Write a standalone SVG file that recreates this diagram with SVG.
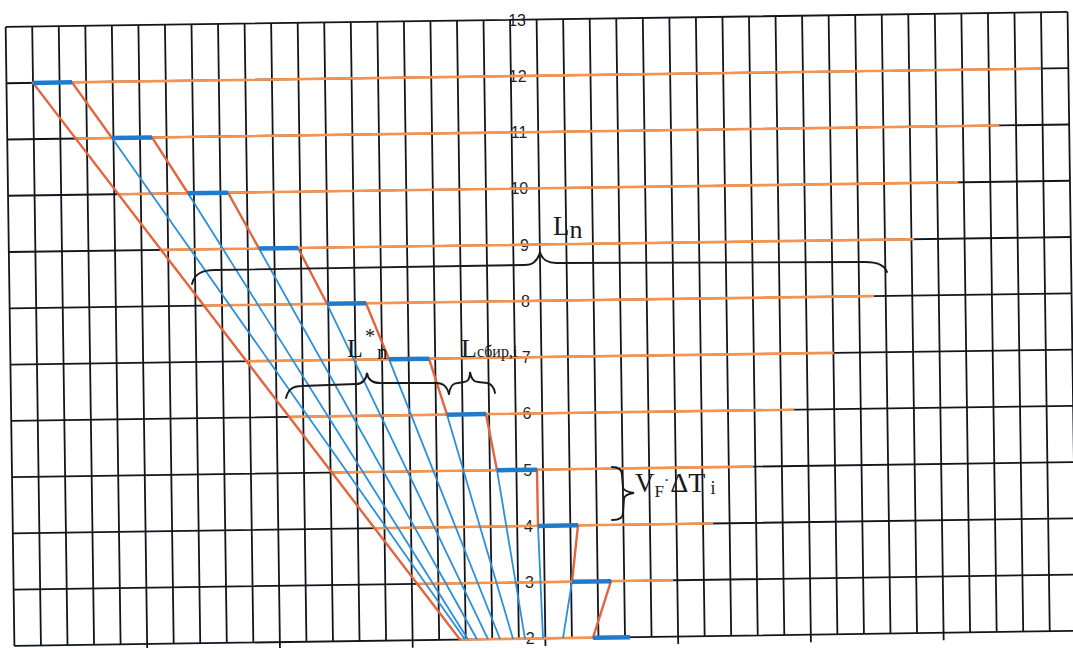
<svg xmlns="http://www.w3.org/2000/svg" width="1073" height="648" viewBox="0 0 1073 648">
<style>
.grid{stroke:#12151c;stroke-width:1.8;fill:none}
.or{stroke:#f5934f;stroke-width:2.6;fill:none;stroke-linecap:round}
.od{stroke:#e3653c;stroke-width:2.4;fill:none;stroke-linecap:round;stroke-linejoin:round}
.bt{stroke:#1f7ccc;stroke-width:4.5;fill:none}
.bl{stroke:#2b90dc;stroke-width:1.8;fill:none}
.br{stroke:#1a1a1a;stroke-width:1.9;fill:none;stroke-linecap:round}
.ax{font-family:"Liberation Sans",Arial,sans-serif;font-size:16px;fill:#222;text-anchor:end}
.tx{font-family:"Liberation Serif","Times New Roman",serif;fill:#1a1a1a}
</style>
<rect width="1073" height="648" fill="#ffffff"/>
<g id="grid" transform="rotate(-0.81 536 330)">
<path class="grid" d="M10 19.5V638.5M36.55 19.5V638.5M63.1 19.5V638.5M89.65 19.5V638.5M116.2 19.5V638.5M142.75 19.5V646M169.3 19.5V638.5M195.85 19.5V638.5M222.4 19.5V638.5M248.95 19.5V638.5M275.5 19.5V646M302.05 19.5V638.5M328.6 19.5V638.5M355.15 19.5V638.5M381.7 19.5V638.5M408.25 19.5V646M434.8 19.5V638.5M461.35 19.5V638.5M487.9 19.5V638.5M514.45 19.5V638.5M541 19.5V646M567.55 19.5V638.5M594.1 19.5V638.5M620.65 19.5V638.5M647.2 19.5V638.5M673.75 19.5V646M700.3 19.5V638.5M726.85 19.5V638.5M753.4 19.5V638.5M779.95 19.5V638.5M806.5 19.5V646M833.05 19.5V638.5M859.6 19.5V638.5M886.15 19.5V638.5M912.7 19.5V638.5M939.25 19.5V646M965.8 19.5V638.5M992.35 19.5V638.5M1018.9 19.5V638.5M1045.45 19.5V638.5M1072 19.5V638.5"/>
<path class="grid" d="M10 19.5H1072M10 75.77H1072M10 132.04H1072M10 188.31H1072M10 244.58H1072M10 300.85H1072M10 357.12H1072M10 413.39H1072M10 469.66H1072M10 525.93H1072M10 582.2H1072M10 638.47H1072"/>
</g>
<g id="axis-labels">
<text class="ax" x="526" y="25.8">13</text>
<text class="ax" x="526.6" y="81.8">12</text>
<text class="ax" x="527.4" y="138.1">11</text>
<text class="ax" x="528.2" y="194.3">10</text>
<text class="ax" x="529" y="250.6">9</text>
<text class="ax" x="529.8" y="306.8">8</text>
<text class="ax" x="530.6" y="363.1">7</text>
<text class="ax" x="531.4" y="419.4">6</text>
<text class="ax" x="532.2" y="475.7">5</text>
<text class="ax" x="533" y="531.9">4</text>
<text class="ax" x="533.8" y="588.2">3</text>
<text class="ax" x="534.6" y="644.4">2</text>
</g>
<g id="connectors">
<g id="rows-orange">
<line class="or" x1="33" y1="82.88" x2="1040" y2="68.64"/>
<line class="or" x1="75.7" y1="138.55" x2="998" y2="125.51"/>
<line class="or" x1="118.4" y1="194.21" x2="957" y2="182.36"/>
<line class="or" x1="161.1" y1="249.88" x2="913" y2="239.25"/>
<line class="or" x1="203.8" y1="305.55" x2="873" y2="296.08"/>
<line class="or" x1="246.5" y1="361.21" x2="833" y2="352.92"/>
<line class="or" x1="289.2" y1="416.88" x2="793" y2="409.76"/>
<line class="or" x1="331.9" y1="472.55" x2="752" y2="466.61"/>
<line class="or" x1="374.6" y1="528.21" x2="712" y2="523.44"/>
<line class="or" x1="417.3" y1="583.88" x2="672" y2="580.28"/>
<line class="or" x1="460" y1="639.54" x2="593" y2="637.66"/>
</g>
<g id="blue-rays">
<line class="bl" x1="112" y1="138.04" x2="465" y2="639.47"/>
<line class="bl" x1="188" y1="193.23" x2="468" y2="639.43"/>
<line class="bl" x1="259" y1="248.5" x2="477" y2="639.3"/>
<line class="bl" x1="327" y1="303.81" x2="488" y2="639.15"/>
<line class="bl" x1="389" y1="359.2" x2="500" y2="638.98"/>
<line class="bl" x1="447" y1="414.65" x2="513" y2="638.8"/>
<line class="bl" x1="497" y1="470.21" x2="525" y2="638.63"/>
<line class="bl" x1="538" y1="525.9" x2="543" y2="638.37"/>
<line class="bl" x1="572" y1="581.69" x2="563" y2="638.09"/>
</g>
<g id="orange-diagonals">
<line class="od" x1="33" y1="82.88" x2="460" y2="639.54"/>
<line class="od" x1="72" y1="82.33" x2="112" y2="138.04"/>
<line class="od" x1="152" y1="137.47" x2="188" y2="193.23"/>
<line class="od" x1="228" y1="192.67" x2="259" y2="248.5"/>
<line class="od" x1="298" y1="247.95" x2="327" y2="303.81"/>
<line class="od" x1="366" y1="303.25" x2="389" y2="359.2"/>
<line class="od" x1="429" y1="358.63" x2="447" y2="414.65"/>
<line class="od" x1="486" y1="414.1" x2="497" y2="470.21"/>
<line class="od" x1="537" y1="469.65" x2="538" y2="525.9"/>
<line class="od" x1="578" y1="525.34" x2="572" y2="581.69"/>
<line class="od" x1="611" y1="581.14" x2="593" y2="637.66"/>
</g>
<g id="blue-segments">
<line class="bt" x1="33" y1="82.88" x2="72" y2="82.33"/>
<line class="bt" x1="112" y1="138.04" x2="152" y2="137.47"/>
<line class="bt" x1="188" y1="193.23" x2="228" y2="192.67"/>
<line class="bt" x1="259" y1="248.5" x2="298" y2="247.95"/>
<line class="bt" x1="327" y1="303.81" x2="366" y2="303.25"/>
<line class="bt" x1="389" y1="359.2" x2="429" y2="358.63"/>
<line class="bt" x1="447" y1="414.65" x2="486" y2="414.1"/>
<line class="bt" x1="497" y1="470.21" x2="537" y2="469.65"/>
<line class="bt" x1="538" y1="525.9" x2="578" y2="525.34"/>
<line class="bt" x1="572" y1="581.69" x2="611" y2="581.14"/>
<line class="bt" x1="593" y1="637.66" x2="630" y2="637.14"/>
</g>
</g>
<g id="brace-Ln">
<path class="br" d="M192 284C194 275 200 270 215 270L525 265C533 265 538 260 540 252C542 260 547 263 556 263L865 262C878 262 885 266 887 272"/>
<text class="tx" x="553" y="235" font-size="27">L<tspan font-size="26" dy="3">n</tspan></text>
</g>
<g id="brace-Ln-star">
<path class="br" d="M286 398C288 390 292 386 302 386L356 384C362 384 366 380 367 373C368 380 372 383 380 383L436 383C444 383 447 387 449 394"/>
<text class="tx" x="347" y="357" font-size="26">L<tspan font-size="20" dx="2" dy="-14">*</tspan><tspan font-size="21" dx="2" dy="16">n</tspan></text>
</g>
<g id="brace-Lsbir">
<path class="br" d="M449 394C450 387 452 383 458 383L464 382C468 382 470 378 470 372C471 378 473 382 478 382L487 383C492 384 494 387 495 393"/>
<text class="tx" x="461" y="357" font-size="26">L<tspan font-size="16">сбир,i</tspan></text>
</g>
<g id="brace-VF">
<path class="br" d="M612 467C618 467 622 469 622 475L623 487C623 490 627 492 634 493C627 494 624 496 624 499L623 513C623 518 619 520 612 520"/>
<text class="tx" x="635" y="492" font-size="27">V<tspan font-size="17" dy="5">F</tspan><tspan font-size="16" dy="-11">·</tspan><tspan font-size="28" dx="1" dy="6">ΔT</tspan><tspan font-size="18" dx="5" dy="2">i</tspan></text>
</g>
</svg>
